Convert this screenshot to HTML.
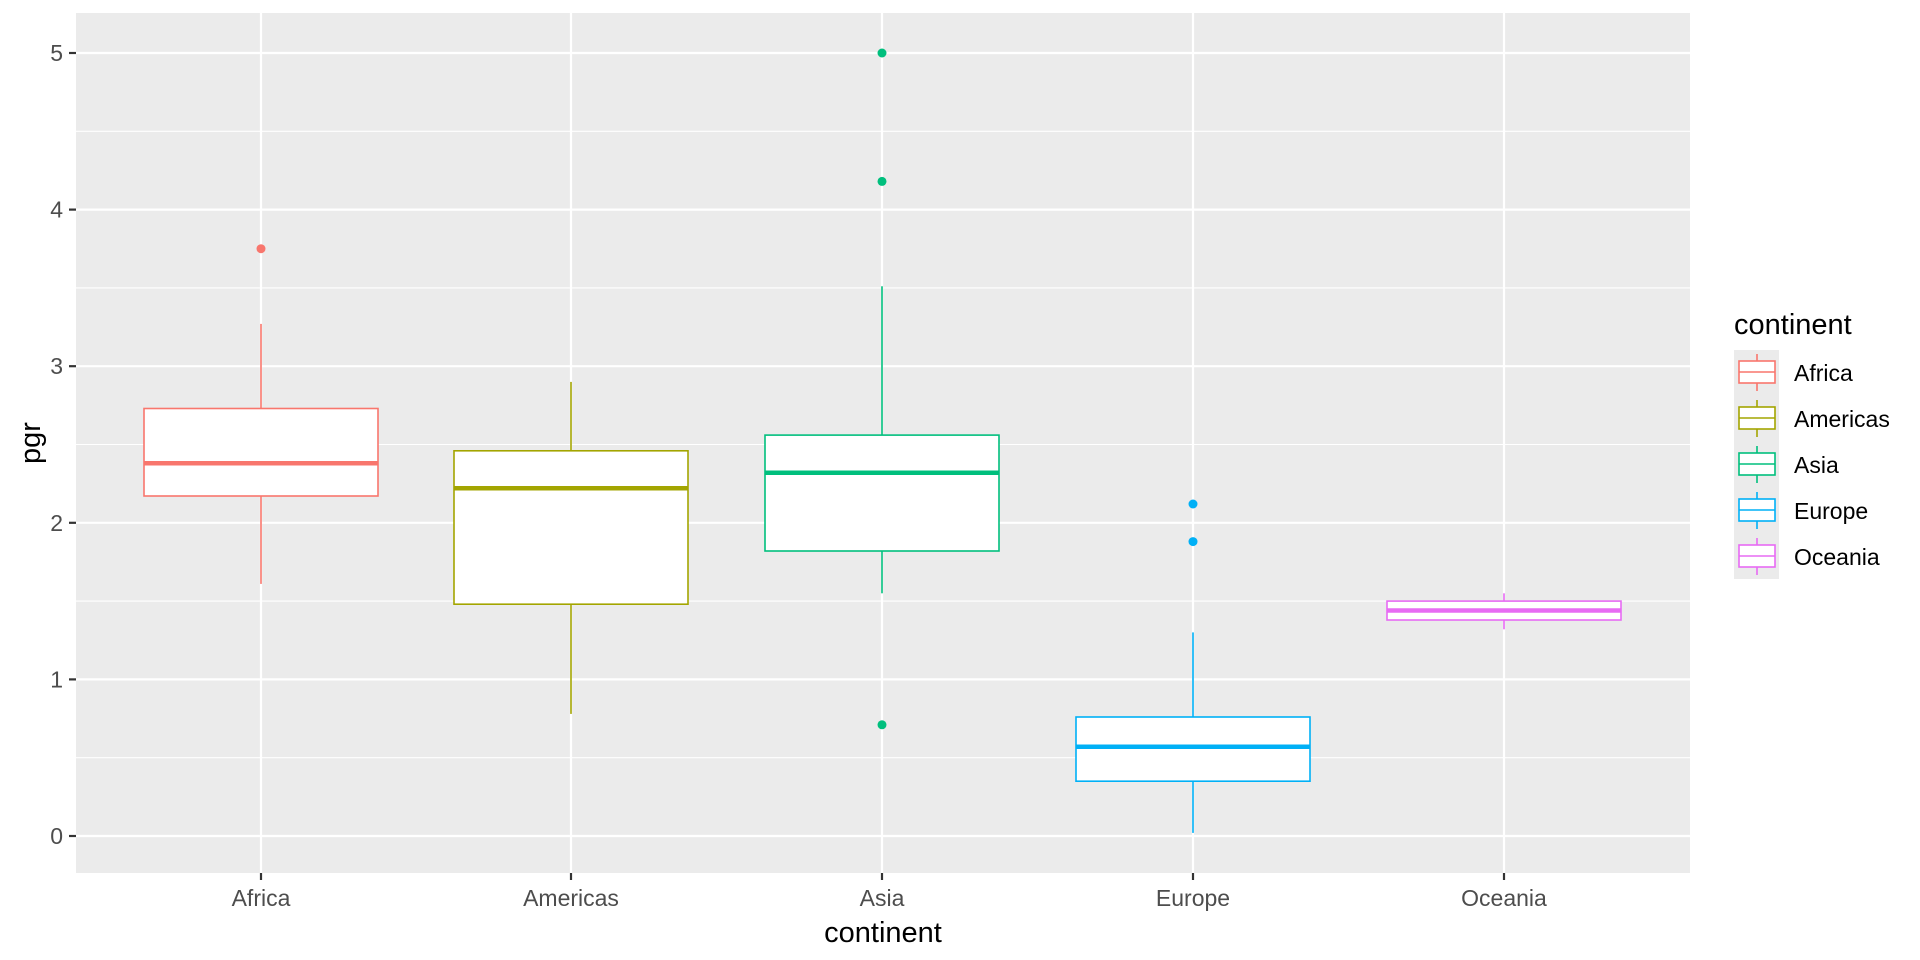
<!DOCTYPE html>
<html><head><meta charset="utf-8"><style>body{margin:0;background:#fff}svg{display:block}text{font-family:"Liberation Sans",sans-serif}</style></head>
<body>
<svg width="1920" height="960" xmlns="http://www.w3.org/2000/svg">
<rect x="76" y="13" width="1614" height="860" fill="#ebebeb"/>
<g stroke="#fff" stroke-width="1.1">
<line x1="76" x2="1690" y1="757.7" y2="757.7"/><line x1="76" x2="1690" y1="601.1" y2="601.1"/>
<line x1="76" x2="1690" y1="444.5" y2="444.5"/><line x1="76" x2="1690" y1="287.9" y2="287.9"/>
<line x1="76" x2="1690" y1="131.3" y2="131.3"/>
</g>
<g stroke="#fff" stroke-width="2.2">
<line x1="76" x2="1690" y1="836" y2="836"/><line x1="76" x2="1690" y1="679.4" y2="679.4"/>
<line x1="76" x2="1690" y1="522.8" y2="522.8"/><line x1="76" x2="1690" y1="366.2" y2="366.2"/>
<line x1="76" x2="1690" y1="209.6" y2="209.6"/><line x1="76" x2="1690" y1="53" y2="53"/>
<line x1="261" x2="261" y1="13" y2="873"/><line x1="571" x2="571" y1="13" y2="873"/>
<line x1="882" x2="882" y1="13" y2="873"/><line x1="1193" x2="1193" y1="13" y2="873"/>
<line x1="1504" x2="1504" y1="13" y2="873"/>
</g>
<!-- Africa -->
<g stroke="#F8766D" stroke-width="1.6" fill="#fff">
<line x1="261" x2="261" y1="323.9" y2="408.5"/><line x1="261" x2="261" y1="496" y2="583.9"/>
<rect x="144" y="408.5" width="234" height="87.5"/>
<line x1="144" x2="378" y1="463.3" y2="463.3" stroke-width="4.5"/>
</g>
<circle cx="261" cy="248.7" r="4.5" fill="#F8766D"/>
<!-- Americas -->
<g stroke="#A3A500" stroke-width="1.6" fill="#fff">
<line x1="571" x2="571" y1="381.9" y2="450.8"/><line x1="571" x2="571" y1="604.2" y2="713.9"/>
<rect x="454" y="450.8" width="234" height="153.4"/>
<line x1="454" x2="688" y1="488.3" y2="488.3" stroke-width="4.5"/>
</g>
<!-- Asia -->
<g stroke="#00BF7D" stroke-width="1.6" fill="#fff">
<line x1="882" x2="882" y1="286.3" y2="435.1"/><line x1="882" x2="882" y1="551" y2="593.3"/>
<rect x="765" y="435.1" width="234" height="115.9"/>
<line x1="765" x2="999" y1="472.7" y2="472.7" stroke-width="4.5"/>
</g>
<g fill="#00BF7D"><circle cx="882" cy="53" r="4.5"/><circle cx="882" cy="181.4" r="4.5"/><circle cx="882" cy="724.8" r="4.5"/></g>
<!-- Europe -->
<g stroke="#00B0F6" stroke-width="1.6" fill="#fff">
<line x1="1193" x2="1193" y1="632.4" y2="717"/><line x1="1193" x2="1193" y1="781.2" y2="832.9"/>
<rect x="1076" y="717" width="234" height="64.2"/>
<line x1="1076" x2="1310" y1="746.7" y2="746.7" stroke-width="4.5"/>
</g>
<g fill="#00B0F6"><circle cx="1193" cy="504" r="4.5"/><circle cx="1193" cy="541.6" r="4.5"/></g>
<!-- Oceania -->
<g stroke="#E76BF3" stroke-width="1.6" fill="#fff">
<line x1="1504" x2="1504" y1="593.3" y2="601.1"/><line x1="1504" x2="1504" y1="620" y2="629.3"/>
<rect x="1387" y="601.1" width="234" height="18.9"/>
<line x1="1387" x2="1621" y1="610.5" y2="610.5" stroke-width="4.5"/>
</g>
<!-- axes ticks -->
<g stroke="#333" stroke-width="2.2">
<line x1="69" x2="76" y1="836" y2="836"/><line x1="69" x2="76" y1="679.4" y2="679.4"/>
<line x1="69" x2="76" y1="522.8" y2="522.8"/><line x1="69" x2="76" y1="366.2" y2="366.2"/>
<line x1="69" x2="76" y1="209.6" y2="209.6"/><line x1="69" x2="76" y1="53" y2="53"/>
<line x1="261" x2="261" y1="873" y2="880"/><line x1="571" x2="571" y1="873" y2="880"/>
<line x1="882" x2="882" y1="873" y2="880"/><line x1="1193" x2="1193" y1="873" y2="880"/>
<line x1="1504" x2="1504" y1="873" y2="880"/>
</g>
<g fill="#4d4d4d" font-size="23" text-anchor="end">
<text x="63" y="844">0</text><text x="63" y="687.4">1</text><text x="63" y="530.8">2</text>
<text x="63" y="374.2">3</text><text x="63" y="217.6">4</text><text x="63" y="61">5</text>
</g>
<g fill="#4d4d4d" font-size="23" text-anchor="middle">
<text x="261" y="906">Africa</text><text x="571" y="906">Americas</text><text x="882" y="906">Asia</text>
<text x="1193" y="906">Europe</text><text x="1504" y="906">Oceania</text>
</g>
<text x="883" y="942" font-size="29" text-anchor="middle">continent</text>
<text transform="translate(40,443) rotate(-90)" font-size="29" text-anchor="middle">pgr</text>
<!-- legend -->
<text x="1734" y="334" font-size="29">continent</text>
<rect x="1734" y="350" width="45" height="229" fill="#ebebeb"/>
<g stroke-width="1.6" fill="#fff">
<g stroke="#F8766D"><line x1="1757" x2="1757" y1="354" y2="371"/><line x1="1757" x2="1757" y1="383" y2="391"/><rect x="1739" y="361" width="36" height="22"/><line x1="1739" x2="1775" y1="372" y2="372"/></g>
<g stroke="#A3A500" transform="translate(0,46)"><line x1="1757" x2="1757" y1="354" y2="371"/><line x1="1757" x2="1757" y1="383" y2="391"/><rect x="1739" y="361" width="36" height="22"/><line x1="1739" x2="1775" y1="372" y2="372"/></g>
<g stroke="#00BF7D" transform="translate(0,92)"><line x1="1757" x2="1757" y1="354" y2="371"/><line x1="1757" x2="1757" y1="383" y2="391"/><rect x="1739" y="361" width="36" height="22"/><line x1="1739" x2="1775" y1="372" y2="372"/></g>
<g stroke="#00B0F6" transform="translate(0,138)"><line x1="1757" x2="1757" y1="354" y2="371"/><line x1="1757" x2="1757" y1="383" y2="391"/><rect x="1739" y="361" width="36" height="22"/><line x1="1739" x2="1775" y1="372" y2="372"/></g>
<g stroke="#E76BF3" transform="translate(0,184)"><line x1="1757" x2="1757" y1="354" y2="371"/><line x1="1757" x2="1757" y1="383" y2="391"/><rect x="1739" y="361" width="36" height="22"/><line x1="1739" x2="1775" y1="372" y2="372"/></g>
</g>
<g font-size="23" fill="#000">
<text x="1794" y="381">Africa</text><text x="1794" y="427">Americas</text><text x="1794" y="473">Asia</text>
<text x="1794" y="519">Europe</text><text x="1794" y="565">Oceania</text>
</g>
</svg>
</body></html>
